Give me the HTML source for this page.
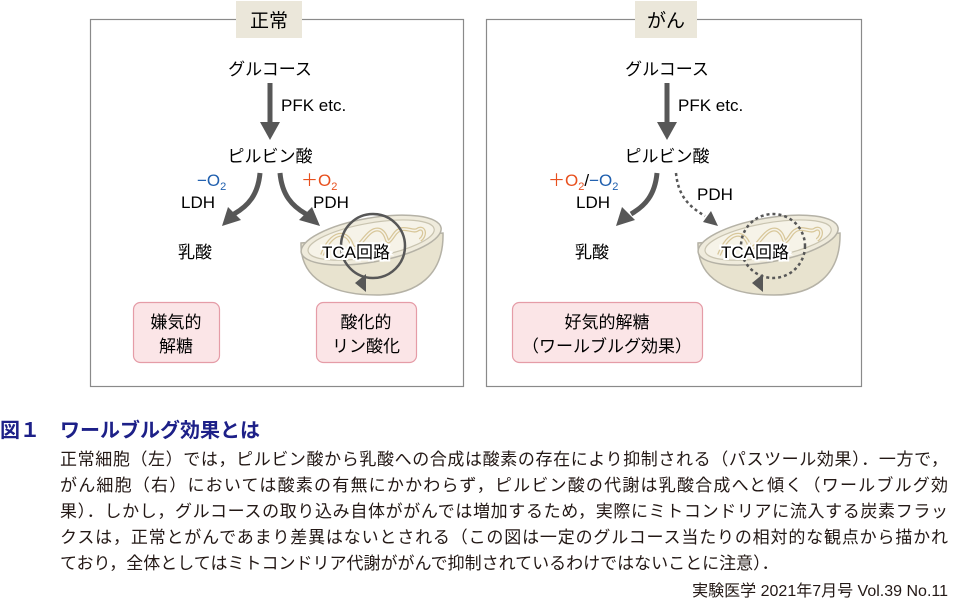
<!DOCTYPE html>
<html><head><meta charset="utf-8"><style>
body{margin:0;background:#fff;width:953px;height:615px;overflow:hidden;position:relative;font-family:"Liberation Sans","Noto Sans CJK JP",sans-serif;color:#231815}
.t{position:absolute;white-space:nowrap}
.ln{position:absolute;left:60px;width:888px;font-size:17px;white-space:nowrap}
.j{text-align:justify;text-align-last:justify}
</style></head><body>
<svg width="953" height="400" style="position:absolute;left:0;top:0" font-family="Liberation Sans, Noto Sans CJK JP, sans-serif">
<defs>
<g id="mito">
<path d="M-71,-2 C-72,40 -30,50 5,50 C45,50 72,30 71,-12 Z" fill="#e8e3cf" stroke="#b5b2a6" stroke-width="1.5"/>
<ellipse cx="0" cy="-5" rx="71" ry="22" transform="rotate(-10)" fill="#efebdc" stroke="#b5b2a6" stroke-width="1.5"/>
<ellipse cx="0" cy="-5" rx="64" ry="17" transform="rotate(-10)" fill="#f6f3e8" stroke="#c9c4b0" stroke-width="1.2"/>
<path d="M-50,10 C-40,-15 -25,-15 -20,0 C-15,12 -5,-20 8,-15 C18,-10 12,5 22,-10 C30,-22 40,-12 45,-15 C52,-20 55,-10 48,-5" fill="none" stroke="#d8c79a" stroke-width="4"/>
<path d="M-50,10 C-40,-15 -25,-15 -20,0 C-15,12 -5,-20 8,-15 C18,-10 12,5 22,-10 C30,-22 40,-12 45,-15 C52,-20 55,-10 48,-5" fill="none" stroke="#f6f3e8" stroke-width="1.5"/>
</g>
</defs>
<!-- left panel -->
<rect x="90.5" y="19.5" width="373" height="367" fill="none" stroke="#8a8a8a" stroke-width="1.2"/>
<rect x="236" y="1" width="66" height="37" fill="#ebe7da"/>
<text x="269" y="27" font-size="19" text-anchor="middle">正常</text>
<text x="270" y="75" font-size="17" text-anchor="middle">グルコース</text>
<line x1="270" y1="83" x2="270" y2="124" stroke="#575757" stroke-width="5"/>
<polygon points="260,122 280,122 270,140" fill="#575757"/>
<text x="281" y="111" font-size="17">PFK etc.</text>
<text x="270" y="162" font-size="17" text-anchor="middle">ピルビン酸</text>
<text x="197" y="186" font-size="17" fill="#1f5fae">−O<tspan font-size="11" dy="4">2</tspan></text>
<text x="181" y="208" font-size="17">LDH</text>
<path d="M260,173 C258,195 248,206 234,214" fill="none" stroke="#575757" stroke-width="5"/>
<polygon points="222,226 228,207 241,220" fill="#575757"/>
<text x="301" y="186" font-size="17" fill="#e8501e">＋O<tspan font-size="11" dy="4">2</tspan></text>
<text x="313" y="208" font-size="17">PDH</text>
<path d="M280,173 C282,195 292,206 306,214" fill="none" stroke="#575757" stroke-width="5"/>
<polygon points="320,226 299,220 312,207" fill="#575757"/>
<text x="195" y="258" font-size="17" text-anchor="middle">乳酸</text>
<use href="#mito" x="372" y="245"/>
<circle cx="373" cy="246" r="32" fill="none" stroke="#575757" stroke-width="2.5"/>
<polygon points="355,283 366,274 366,292" fill="#575757"/>
<text x="356" y="258" font-size="17" text-anchor="middle" stroke="#fff" stroke-width="4" paint-order="stroke">TCA回路</text>
<rect x="133.5" y="302.5" width="86" height="60" rx="7" fill="#fbe5e7" stroke="#e59ca7" stroke-width="1.2"/>
<text x="176" y="328" font-size="17" text-anchor="middle">嫌気的</text>
<text x="176" y="352" font-size="17" text-anchor="middle">解糖</text>
<rect x="316.5" y="302.5" width="100" height="60" rx="7" fill="#fbe5e7" stroke="#e59ca7" stroke-width="1.2"/>
<text x="366" y="328" font-size="17" text-anchor="middle">酸化的</text>
<text x="366" y="352" font-size="17" text-anchor="middle">リン酸化</text>
<!-- right panel -->
<rect x="486.5" y="19.5" width="375" height="367" fill="none" stroke="#8a8a8a" stroke-width="1.2"/>
<rect x="635" y="1" width="62" height="37" fill="#ebe7da"/>
<text x="666" y="27" font-size="19" text-anchor="middle">がん</text>
<text x="667" y="75" font-size="17" text-anchor="middle">グルコース</text>
<line x1="667" y1="83" x2="667" y2="124" stroke="#575757" stroke-width="5"/>
<polygon points="657,122 677,122 667,140" fill="#575757"/>
<text x="678" y="111" font-size="17">PFK etc.</text>
<text x="667" y="162" font-size="17" text-anchor="middle">ピルビン酸</text>
<text x="548" y="186" font-size="17"><tspan fill="#e8501e">＋O</tspan><tspan fill="#e8501e" font-size="11" dy="4">2</tspan><tspan dy="-4">/</tspan><tspan fill="#1f5fae">−O</tspan><tspan fill="#1f5fae" font-size="11" dy="4">2</tspan></text>
<text x="576" y="208" font-size="17">LDH</text>
<path d="M657,173 C655,195 645,206 631,214" fill="none" stroke="#575757" stroke-width="5"/>
<polygon points="616,226 622,207 635,220" fill="#575757"/>
<path d="M676,173 C678,195 688,206 705,216" fill="none" stroke="#575757" stroke-width="2.5" stroke-dasharray="3,3"/>
<polygon points="718,226 703,222 711,211" fill="#575757"/>
<text x="697" y="200" font-size="17">PDH</text>
<text x="592" y="258" font-size="17" text-anchor="middle">乳酸</text>
<use href="#mito" x="769" y="245"/>
<circle cx="773" cy="246" r="32" fill="none" stroke="#575757" stroke-width="2.5" stroke-dasharray="3,3"/>
<polygon points="752,283 763,274 763,292" fill="#575757"/>
<text x="755" y="258" font-size="17" text-anchor="middle" stroke="#fff" stroke-width="4" paint-order="stroke">TCA回路</text>
<rect x="512.5" y="302.5" width="190" height="60" rx="7" fill="#fbe5e7" stroke="#e59ca7" stroke-width="1.2"/>
<text x="607" y="328" font-size="17" text-anchor="middle">好気的解糖</text>
<text x="607" y="352" font-size="17" text-anchor="middle">（ワールブルグ効果）</text>
</svg>
<div class="t" style="left:0;top:414px;font-size:20px;font-weight:bold;color:#1d2088">図１</div>
<div class="t" style="left:60px;top:414px;font-size:20px;font-weight:bold;color:#1d2088">ワールブルグ効果とは</div>
<div class="ln j" style="top:445px">正常細胞（左）では，ピルビン酸から乳酸への合成は酸素の存在により抑制される（パスツール効果）．一方で，</div>
<div class="ln j" style="top:471px">がん細胞（右）においては酸素の有無にかかわらず，ピルビン酸の代謝は乳酸合成へと傾く（ワールブルグ効</div>
<div class="ln j" style="top:497px">果）．しかし，グルコースの取り込み自体ががんでは増加するため，実際にミトコンドリアに流入する炭素フラッ</div>
<div class="ln j" style="top:523px">クスは，正常とがんであまり差異はないとされる（この図は一定のグルコース当たりの相対的な観点から描かれ</div>
<div class="ln" style="top:549px">ており，全体としてはミトコンドリア代謝ががんで抑制されているわけではないことに注意）．</div>
<div class="t" style="right:5px;top:577px;font-size:16px">実験医学 2021年7月号 Vol.39 No.11</div>
</body></html>
